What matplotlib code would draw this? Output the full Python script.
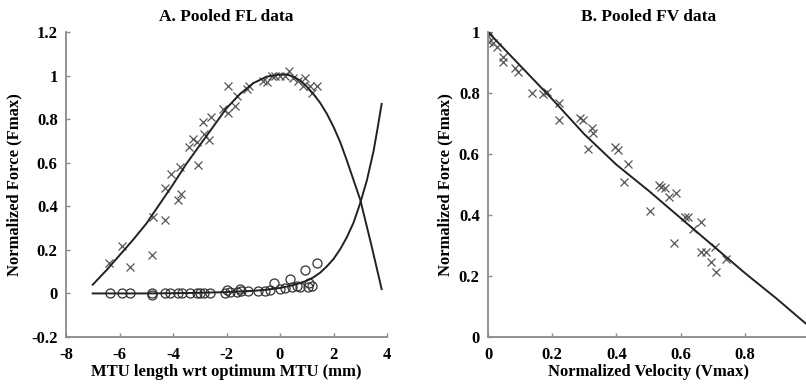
import matplotlib
matplotlib.use('Agg')
import matplotlib.pyplot as plt

plt.rcParams['font.family'] = ['Liberation Serif', 'DejaVu Serif']
plt.rcParams['font.weight'] = 'bold'

# A. pooled force-length data (x markers = active, circles = passive)
fl_x = [-6.39, -5.91, -5.61, -4.80, -4.76, -4.30, -3.80, -3.70, -4.30, -4.09,
        -3.74, -3.08, -3.39, -3.24, -3.11, -2.89, -2.84, -2.64, -2.59, -2.12,
        -1.96, -1.93, -1.67, -1.62, -1.25, -1.15, -0.62, -0.50, -0.31, -0.19,
        0.00, 0.18, 0.35, 0.50, 0.69, 0.93, 0.87, 1.12, 1.37, 1.19]
fl_y = [0.14, 0.22, 0.12, 0.175, 0.35, 0.338, 0.427, 0.457, 0.485, 0.546,
        0.58, 0.59, 0.67, 0.71, 0.694, 0.786, 0.733, 0.705, 0.81, 0.847,
        0.95, 0.827, 0.862, 0.908, 0.939, 0.95, 0.977, 0.97, 1.0, 1.0,
        0.997, 1.0, 1.02, 0.99, 0.977, 0.99, 0.954, 0.95, 0.95, 0.92]

pas_x = [-6.36, -5.92, -5.61, -4.80, -4.80, -4.30, -4.11, -3.80, -3.68, -3.36,
         -3.11, -2.99, -2.84, -2.62, -2.06, -1.87, -1.62, -1.47, -1.18, -0.81,
         -0.56, -0.37, -0.22, 0.00, 0.19, 0.37, 0.44, 0.62, 0.75, 0.93,
         1.06, 1.10, 1.19, 1.37, -2.00, -1.50]
pas_y = [0.0, 0.0, 0.0, 0.0, -0.005, 0.0, 0.0, 0.0, 0.0, 0.0,
         0.0, 0.0, 0.0, 0.0, 0.0, 0.005, 0.008, 0.012, 0.012, 0.012,
         0.01, 0.015, 0.046, 0.02, 0.025, 0.064, 0.03, 0.034, 0.03, 0.107,
         0.03, 0.05, 0.035, 0.14, 0.018, 0.02]

act_curve_x = [-7.0, -6.5, -6.0, -5.5, -5.0, -4.5, -4.0, -3.5, -3.0, -2.5, -2.0,
               -1.5, -1.0, -0.5, 0.0, 0.25, 0.5, 0.75, 1.0, 1.25, 1.5, 1.75,
               2.0, 2.25, 2.5, 2.75, 3.0, 3.2, 3.4, 3.6, 3.8]
act_curve_y = [0.04, 0.105, 0.175, 0.245, 0.32, 0.41, 0.50, 0.595, 0.68, 0.765, 0.85,
               0.915, 0.965, 0.995, 1.005, 1.005, 0.995, 0.978, 0.95, 0.915, 0.875, 0.825,
               0.765, 0.695, 0.61, 0.52, 0.43, 0.33, 0.23, 0.125, 0.02]

pas_curve_x = [-7.0, -5.0, -4.0, -3.0, -2.0, -1.0, -0.5, 0.0, 0.5, 1.0,
               1.25, 1.5, 1.75, 2.0, 2.25, 2.5, 2.75, 3.0, 3.25, 3.5, 3.65, 3.8]
pas_curve_y = [0.0, 0.0, 0.001, 0.003, 0.006, 0.012, 0.017, 0.025, 0.038, 0.058,
               0.074, 0.095, 0.124, 0.158, 0.203, 0.258, 0.325, 0.415, 0.52, 0.655, 0.76, 0.87]

# B. pooled force-velocity data
fv_x = [0.004, 0.001, 0.004, 0.017, 0.027, 0.046, 0.046, 0.084, 0.094, 0.136,
        0.17, 0.183, 0.222, 0.22, 0.286, 0.297, 0.323, 0.326, 0.31, 0.395,
        0.406, 0.437, 0.424, 0.533, 0.538, 0.551, 0.587, 0.564, 0.504, 0.613,
        0.624, 0.639, 0.665, 0.58, 0.665, 0.68, 0.696, 0.707, 0.71, 0.741]
fv_y = [0.999, 0.987, 0.968, 0.963, 0.952, 0.919, 0.903, 0.881, 0.87, 0.799,
        0.796, 0.804, 0.766, 0.711, 0.717, 0.711, 0.684, 0.67, 0.615, 0.624,
        0.613, 0.567, 0.509, 0.498, 0.493, 0.488, 0.473, 0.46, 0.413, 0.392,
        0.394, 0.353, 0.376, 0.309, 0.28, 0.28, 0.247, 0.296, 0.214, 0.255]

fv_curve_x = [0.0, 0.1, 0.2, 0.3, 0.4, 0.5, 0.6, 0.7, 0.8, 0.9, 1.0]
fv_curve_y = [1.0, 0.89, 0.78, 0.665, 0.565, 0.48, 0.39, 0.30, 0.21, 0.125, 0.035]

fl_xticks = [-8, -6, -4, -2, 0, 2, 4]
fl_yticks = [-0.2, 0, 0.2, 0.4, 0.6, 0.8, 1, 1.2]
fv_xticks = [0, 0.2, 0.4, 0.6, 0.8]
fv_yticks = [0, 0.2, 0.4, 0.6, 0.8, 1]


def fmt(v):
    return '{:g}'.format(v)


def style(ax):
    for s in ['top', 'right']:
        ax.spines[s].set_visible(False)
    for s in ['left', 'bottom']:
        ax.spines[s].set_color('#8a8a8a')
        ax.spines[s].set_linewidth(1.3)
    ax.tick_params(direction='in', length=3, width=1, color='#8a8a8a', labelsize=12)
    ax.tick_params(axis='x', pad=7)
    ax.tick_params(axis='y', pad=6)


fig = plt.figure(figsize=(8.06, 3.85), dpi=100)
ax1 = fig.add_axes([66 / 806, 48 / 385, 321 / 806, 305 / 385])
ax2 = fig.add_axes([488 / 806, 48 / 385, 321 / 806, 305 / 385])

mk = dict(ls='none', marker='x', ms=6, mew=0.9, color='#555555')

ax1.plot(fl_x, fl_y, **mk)
ax1.plot(pas_x, pas_y, ls='none', marker='o', ms=6.5, mew=0.9, mfc='none', mec='#333333')
ax1.plot(act_curve_x, act_curve_y, color='#222222', lw=1.4)
ax1.plot(pas_curve_x, pas_curve_y, color='#222222', lw=1.4)
ax1.set_xlim(-8, 4)
ax1.set_ylim(-0.2, 1.2)
ax1.set_xticks(fl_xticks)
ax1.set_xticklabels([fmt(v) for v in fl_xticks])
ax1.set_yticks(fl_yticks)
ax1.set_yticklabels([fmt(v) for v in fl_yticks])
style(ax1)
ax1.set_title('A. Pooled FL data', fontsize=12.5, fontweight='bold', pad=8)
ax1.set_xlabel('MTU length wrt optimum MTU (mm)', fontsize=12, fontweight='bold', labelpad=1)
ax1.set_ylabel('Normalized Force (Fmax)', fontsize=12, fontweight='bold', labelpad=6)

ax2.plot(fv_x, fv_y, **mk)
ax2.plot(fv_curve_x, fv_curve_y, color='#222222', lw=1.4)
ax2.set_xlim(0, 1)
ax2.set_ylim(0, 1)
ax2.set_xticks(fv_xticks)
ax2.set_xticklabels([fmt(v) for v in fv_xticks])
ax2.set_yticks(fv_yticks)
ax2.set_yticklabels([fmt(v) for v in fv_yticks])
style(ax2)
ax2.set_title('B. Pooled FV data', fontsize=12.5, fontweight='bold', pad=8)
ax2.set_xlabel('Normalized Velocity (Vmax)', fontsize=12, fontweight='bold', labelpad=1)
ax2.set_ylabel('Normalized Force (Fmax)', fontsize=12, fontweight='bold', labelpad=4)

fig.savefig('out.png', dpi=100)
